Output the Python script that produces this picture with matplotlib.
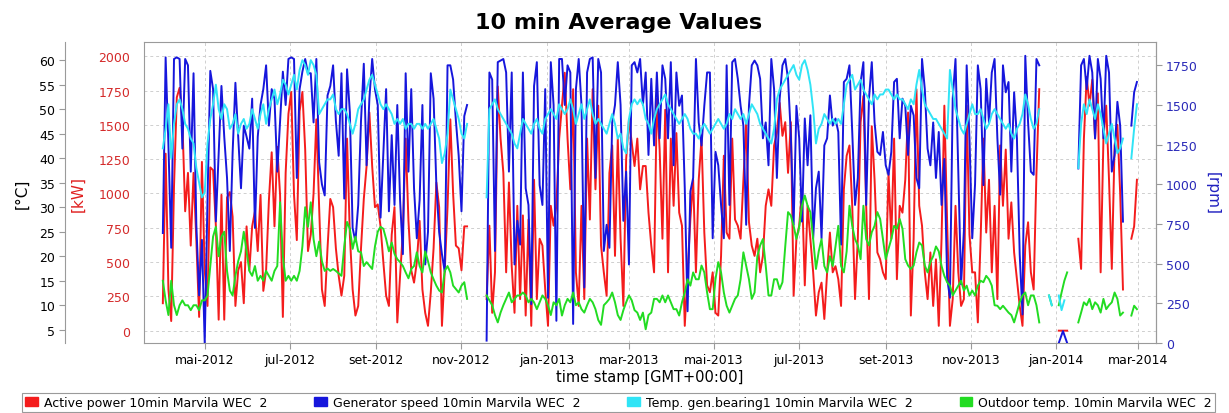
import numpy as np
import pandas as pd
import matplotlib
matplotlib.use("Agg")
import matplotlib.pyplot as plt
import matplotlib.dates as mdates
from matplotlib.ticker import FuncFormatter
from matplotlib.patches import Patch

# Each series is stored as segments: (first day, step in days, values).
# Gaps between segments are periods without data.

power_kw = [
    ("2012-04-01", 2, [200, 1290, 300, 70, 1050, 1700, 1770, 1530, 870, 1150, 620, 1150, 660, 100, 1230,
                       440, 180, 1190, 1170, 760, 80, 990, 80, 970, 1010, 830, 180, 440, 500, 200,
                       760, 440, 760, 870, 580, 990, 290, 440, 950, 1300, 760, 1340, 990, 100, 1150,
                       1580, 1740, 990, 660, 1600, 1740, 1320, 580,
                       700, 1000, 1540, 900, 300, 180, 600, 960, 900, 600, 400, 255, 400, 1400, 700,
                       300, 110, 180, 600, 960, 1200, 1590, 1200, 900, 920, 760, 500, 255, 180, 700,
                       900, 60, 400, 720, 1400, 800, 440, 350, 500, 800, 300, 130, 35, 280, 600,
                       1080, 900, 35, 440, 900, 1540, 1000, 620, 600, 440, 760, 760]),
    ("2012-11-19", 2, [230, 765, 130, 425, 1780, 1400, 1150, 425, 1080, 470, 130, 910, 230, 840, 110,
                       810, 35, 1100, 230, 670, 620, 300, 35, 910, 765, 910, 1400, 1640, 1880, 1400,
                       1030, 1760, 425, 180, 910, 230, 1400, 810, 1760, 1030, 1640, 620, 425, 255, 1150,
                       1350, 545, 1400, 670, 180, 1250, 1540, 1370, 1200, 1400, 1030, 1200,
                       1200, 860, 620, 425, 1690, 1320, 670, 1610, 425, 1400, 910, 1440, 860, 765, 35,
                       425, 810, 1100, 425, 1100, 1400, 715, 330, 280, 425, 130, 110, 545, 1275, 715,
                       670, 1400, 810, 765, 670, 1100, 1520, 790, 620, 545, 670, 425, 545, 910, 1030,
                       910, 1350, 1440, 1660, 1420, 1520, 1150, 1520, 255, 670, 765, 1030, 330, 910,
                       670, 425, 110, 280, 350, 85, 425, 715, 425, 470, 375, 180, 1030, 1275, 1350,
                       910, 230, 670, 1520, 1710, 910, 230, 1490, 1100, 570, 520, 425, 375, 1150, 670,
                       1400, 375, 910, 860, 1100, 1590, 110, 670, 1760, 910, 765, 425, 230, 570, 180,
                       520, 35, 670, 1640, 790, 35, 230, 910, 425, 180, 230, 1640, 700, 425,
                       425, 60, 670, 1400, 715, 1100, 425, 910, 230, 1350, 910, 1320, 670, 935, 570,
                       375, 180, 35, 620, 790, 425, 300, 1150, 1760]),
    ("2014-01-03", 2, [0, 0, 0, 0]),
    ("2014-01-17", 2, [670, 450, 1400, 1850, 1640, 1830, 1400, 1730, 425, 1400, 1640, 1100, 450, 1350,
                       1500, 1000, 300]),
    ("2014-02-24", 2, [670, 760, 1100]),
]

speed_rpm = [
    ("2012-04-01", 2, [693, 1800, 1250, 600, 1790, 1800, 1790, 1225, 1790, 1750, 1080, 1700, 745, 300, 650,
                       0, 900, 1715, 1600, 766, 1200, 1620, 1300, 1040, 580, 1200, 1640, 1300, 975, 1370,
                       1300, 1225, 1540, 725, 1300, 1500, 1600, 1750, 1370, 1600, 1540, 1080, 1400, 1710,
                       1500, 1790, 1800, 1790, 1040, 1600, 1710, 1790, 1700,
                       1700, 1390, 1790, 1140, 1000, 930, 1560, 1620, 1750, 1400, 1180, 1700, 910, 1725,
                       1455, 725, 640, 870, 1400, 1760, 1120, 1540, 1790, 1600, 1500, 790, 1200, 1600,
                       830, 1310, 870, 1500, 900, 560, 1700, 1080, 1600, 975, 660, 900, 1500, 495, 700,
                       1700, 1540, 995, 700, 560, 450, 1750, 1750, 1660, 1400, 1180, 830, 1430, 1500]),
    ("2012-11-19", 2, [15, 1705, 1660, 580, 1770, 1780, 1790, 1705, 1080, 1705, 495, 770, 620, 1705, 975,
                       870, 245, 1620, 1770, 995, 870, 1600, 285, 1770, 1500, 140, 1790, 1790, 1500, 1750,
                       1705, 120, 1600, 1790, 1500, 350, 1705, 1790, 1800, 1040, 1790, 1705, 580, 745, 600,
                       1390, 1500, 1770, 1500, 770, 1080, 495, 1750, 1770, 1705, 1790, 1500,
                       1705, 1185, 1665, 1245, 1705, 1290, 1750, 1665, 1290, 1770, 1120, 1705, 1495, 1560,
                       975, 200, 955, 1040, 1790, 1390, 1245, 1495, 1705, 1705, 660, 1205, 1120, 870, 660,
                       1750, 870, 1770, 1790, 1665, 1495, 1370, 745, 1495, 1750, 1780, 1750, 1665, 1290,
                       1390, 1120, 1790, 1600, 1040, 1540, 1750, 1790, 1665, 1310, 745, 1495, 1290, 765,
                       1415, 1120,
                       1435, 660, 975, 1080, 660, 1245, 1290, 1560, 1370, 1415, 1330, 620, 1645, 1665,
                       1750, 1330, 870, 1040, 1645, 1770, 870, 1540, 1770, 1390, 1205, 1185, 1330, 1120,
                       1060, 1205, 1645, 1665, 1290, 1540, 1495, 1185, 1495, 1435, 1040, 975, 1790, 1600,
                       1225, 1120, 1390, 1040, 1330, 870, 1160, 410, 285, 1540, 1790, 1080, 370, 705, 1750,
                       1290, 660,
                       1000, 1750, 1600, 995, 1665, 1390, 1705, 1790, 1290, 935, 1750, 1580, 1645, 1080,
                       1580, 1290, 560, 180, 1810, 1390, 1080, 1060, 1790, 1750]),
    ("2014-01-03", 3, [0, 75, 0]),
    ("2014-01-17", 2, [1100, 1750, 1790, 1600, 1810, 1705, 1290, 1790, 1665, 1290, 1810, 1705, 1080, 1185,
                       1520, 1370, 765]),
    ("2014-02-24", 2, [1370, 1580, 1645]),
]

bearing_temp_c = [
    ("2012-04-01", 2, [42, 46, 51, 40, 47, 51, 52, 50, 47, 46, 44, 43, 38, 35, 32, 33, 43, 48, 51, 55,
                       50, 48, 51, 50, 46, 47, 49, 45, 47, 48, 46, 47, 50, 48, 46, 49, 51, 47, 50, 52,
                       54, 51, 53, 56, 55, 53, 55, 57, 54, 58, 60, 59, 57,
                       60, 59, 57, 49, 50, 51, 52, 52, 53, 50, 49, 50, 50, 49, 47, 45, 47, 50, 51, 52,
                       54, 56, 57, 55, 53, 51, 50, 51, 50, 49, 47, 48, 47, 48, 46, 47, 47, 46, 47, 47,
                       46, 47, 46, 47, 48, 46, 44, 39, 41, 45, 54, 52, 50, 48, 45, 44, 47]),
    ("2012-11-19", 2, [32, 50, 51, 52, 50, 49, 48, 47, 46, 45, 43, 42, 45, 48, 47, 46, 45, 47, 48, 46,
                       45, 48, 49, 50, 49, 48, 51, 50, 49, 50, 52, 50, 47, 49, 51, 48, 50, 52, 49, 47,
                       48, 47, 46, 45, 47, 49, 47, 44, 45, 42, 41, 48, 51, 52, 51, 52, 51,
                       48, 47, 45, 48, 50, 51, 52, 53, 51, 50, 49, 48, 47, 48, 49, 48, 46, 45, 45, 44,
                       46, 47, 46, 45, 46, 47, 48, 47, 46, 47, 49, 48, 50, 49, 48, 49, 47, 49, 51, 50,
                       49, 47, 46, 45, 44, 43, 46, 52, 54, 55, 56, 57, 58, 59, 57, 56, 59, 60, 58,
                       55, 50, 43, 46, 47, 49, 48, 47, 48, 47, 48, 47, 51, 55, 56, 57, 54, 55, 56, 54,
                       53, 52, 51, 53, 52, 53, 53, 54, 54, 53, 52, 53, 52, 52, 51, 50, 52, 51, 55, 58,
                       54, 51, 50, 49, 48, 48, 47, 46, 45, 44, 58, 54, 50, 48, 46, 45, 47, 49, 51,
                       49, 49, 50, 48, 46, 47, 49, 50, 49, 48, 47, 46, 47, 45, 44, 46, 47, 49, 53, 51,
                       48, 46, 47, 50]),
    ("2013-12-27", 2, [12, 10]),
    ("2014-01-03", 2, [12, 9, 11]),
    ("2014-01-17", 2, [38, 47, 51, 49, 52, 50, 48, 51, 49, 46, 43, 45, 47, 44, 41, 42, 44]),
    ("2014-02-24", 2, [40, 46, 51]),
]

outdoor_temp_c = [
    ("2012-04-01", 2, [15, 11, 8, 15, 10, 8, 10, 11, 10, 10, 9, 10, 10, 9, 11, 11, 12, 18, 24, 26,
                       20, 24, 25, 17, 13, 12, 16, 19, 21, 25, 21, 17, 16, 18, 15, 16, 15, 17, 16, 15,
                       17, 18, 31, 20, 15, 16, 15, 16, 15, 17, 22, 30, 26,
                       31, 23.5, 20, 23, 19, 17, 17.5, 17, 17.4, 17, 16.5, 16, 22, 27, 25.6, 21.5, 24,
                       21, 20.8, 18, 18.8, 18.1, 17.4, 22, 25, 26, 25.6, 23.5, 21, 22.8, 20.5, 19.4,
                       18.8, 18, 16.7, 15.5, 17.4, 18, 20.8, 18, 16.7, 21, 19, 16.7, 15.3, 14, 13, 12.6,
                       17, 18, 16.7, 14, 13.3, 12.6, 14, 14.7, 11.3]),
    ("2012-11-19", 2, [12, 11, 10, 8, 6.5, 8.5, 10, 11.3, 12.6, 10.6, 11.3, 12, 12, 12.6, 12, 10.6,
                       11.3, 10.6, 9.2, 10.6, 12, 11.3, 10, 8, 10.6, 10, 11.3, 7.9, 10, 11.3, 10.6,
                       12.6, 10, 10.6, 9.2, 8.5, 10, 11.3, 10.6, 9.2, 7, 6, 10, 10.6, 11.3, 12.6, 10.6,
                       8, 7, 9, 10.6, 12, 11, 9, 8.5, 7, 8.5,
                       5.1, 8, 8.5, 11.3, 11.3, 10.6, 12, 10.6, 12, 10.6, 9.2, 9.2, 7.9, 10.6, 12.6,
                       15.3, 14, 16.7, 15.3, 15.3, 18.1, 16.7, 12.6, 9.2, 9.2, 15.3, 18.8, 16.7, 12.6,
                       9.9, 8.5, 9.9, 11.3, 12, 15.3, 20.8, 18, 15.3, 11.3, 12.6, 20, 22.2, 23.5, 18.1,
                       12, 12, 15.3, 15.3, 13.3, 14.7, 22, 29, 28.3, 26.2, 23.5, 26, 30.3, 32.4, 30.3,
                       29, 23.5, 17.4, 21, 23.5, 18, 16.7, 20, 18, 22, 26.2, 18, 16.7, 21, 30.3, 26.2,
                       23.5, 22.2, 19.4, 30.3, 23.5, 22.2, 24.9, 26.2, 29, 27.6, 23.5, 19.4, 21.5, 23.5,
                       26.2, 25.6, 27.6, 25.6, 19.4, 18.1, 17.4, 18.1, 20.8, 22.8, 22.2, 18.1, 16.7,
                       18.8, 20, 22, 21, 18, 16, 14.7, 14, 12, 13, 14, 15, 13, 14, 12, 13,
                       12, 14, 15, 14.7, 16, 15.3, 14, 10, 9.9, 9.2, 9.9, 9.2, 8.5, 8, 6.5, 8.5, 10.6,
                       12, 12.6, 10, 12, 12, 10, 6.5]),
    ("2013-12-27", 2, [12, 10]),
    ("2014-01-03", 2, [10, 12.6, 15, 16.7]),
    ("2014-01-17", 2, [6.5, 8.5, 10.6, 10, 11.3, 9.2, 10.6, 10, 8.5, 11.3, 9.2, 10, 10.6, 12.6, 11.3,
                       7.9, 8.5]),
    ("2014-02-24", 2, [7.9, 9.9, 9.2]),
]

series_labels = [
    "Active power 10min Marvila WEC  2",
    "Generator speed 10min Marvila WEC  2",
    "Temp. gen.bearing1 10min Marvila WEC  2",
    "Outdoor temp. 10min Marvila WEC  2",
]
month_names = ["jan", "fev", "mar", "abr", "mai", "jun", "jul", "ago", "set", "out", "nov", "dez"]
kw_ticks = list(range(0, 2001, 250))
rpm_ticks = list(range(0, 1751, 250))
degc_ticks = list(range(5, 61, 5))

RED, BLUE, CYAN, GREEN = "#f41c1c", "#1616dc", "#30e4f6", "#22dc22"
FRAME = "#9a9a9a"


def to_series(segments):
    parts = []
    for start, step, vals in segments:
        idx = pd.date_range(start, periods=len(vals), freq=f"{step}D")
        parts.append(pd.Series(vals, index=idx, dtype=float))
        # break the line after every segment
        parts.append(pd.Series([np.nan], index=[idx[-1] + pd.Timedelta(hours=12)]))
    return pd.concat(parts)


power = to_series(power_kw)
speed = to_series(speed_rpm)
bearing = to_series(bearing_temp_c)
outdoor = to_series(outdoor_temp_c)

fig = plt.figure(figsize=(12.29, 4.14), dpi=100)
W, H = 1229, 414
ax = fig.add_axes([144 / W, 70 / H, 1012 / W, 301 / H])
ax_rpm = ax.twinx()
ax_deg = ax.twinx()

# drawing order: red, blue, then the two temperatures on top
ax.plot(power.index, power.values, color=RED, lw=1.4, zorder=3)
ax_rpm.plot(speed.index, speed.values, color=BLUE, lw=1.4)
ax_deg.plot(outdoor.index, outdoor.values, color=GREEN, lw=1.4)
ax_deg.plot(bearing.index, bearing.values, color=CYAN, lw=1.4)

ax.set_xlim(pd.Timestamp("2012-03-18 12:00"), pd.Timestamp("2014-03-13 16:00"))
ax.set_ylim(-90, 2104)
ax_rpm.set_ylim(0, 1897)
ax_deg.set_ylim(2.3, 63.7)

# kW axis (left, on the frame)
ax.set_yticks(kw_ticks)
ax.tick_params(axis="y", length=0, pad=10, labelsize=9, labelcolor="#d42a2a")
ax.set_ylabel("[kW]", color="#e02020", fontsize=11)
ax.yaxis.set_label_coords(-0.058, 0.5)

# x axis
ax.xaxis.set_major_locator(mdates.MonthLocator(bymonth=[1, 3, 5, 7, 9, 11]))
ax.xaxis.set_major_formatter(FuncFormatter(
    lambda v, pos: f"{month_names[mdates.num2date(v).month - 1]}-{mdates.num2date(v).year}"))
ax.tick_params(axis="x", length=4, color=FRAME, labelsize=9, pad=3)
ax.set_xlabel("time stamp [GMT+00:00]", fontsize=10.5)
ax.xaxis.set_label_coords(0.5, -0.086)

ax.grid(True, color="#cfcfcf", linestyle=(0, (3, 3)), linewidth=0.7, zorder=1)
ax.set_axisbelow(True)
for sp in ax.spines.values():
    sp.set_color(FRAME)

# rpm axis (right)
ax_rpm.set_yticks(rpm_ticks)
ax_rpm.tick_params(axis="y", length=4, color=FRAME, labelsize=9, labelcolor="#2a2ab8", pad=3)
ax_rpm.set_ylabel("[rpm]", color="#2020c0", fontsize=11, rotation=-90, va="center")
ax_rpm.yaxis.set_label_coords(1.056, 0.5)
for name, sp in ax_rpm.spines.items():
    sp.set_visible(name == "right")
    sp.set_color(FRAME)

# degC axis (left, offset)
ax_deg.yaxis.set_ticks_position("left")
ax_deg.yaxis.set_label_position("left")
ax_deg.spines["left"].set_position(("outward", 57))
for name, sp in ax_deg.spines.items():
    sp.set_visible(name == "left")
    sp.set_color(FRAME)
ax_deg.set_yticks(degc_ticks)
ax_deg.tick_params(axis="y", length=4, color=FRAME, labelsize=9, pad=3)
ax_deg.set_ylabel("[°C]", fontsize=11)
ax_deg.yaxis.set_label_coords(-0.113, 0.5)

fig.text(618.5 / W, 1 - 23 / H, "10 min Average Values", ha="center", va="center",
         fontsize=16, fontweight="bold")

handles = [Patch(facecolor=c, edgecolor=c) for c in (RED, BLUE, CYAN, GREEN)]
leg = fig.legend(handles, series_labels, loc="lower left", ncol=4, mode="expand",
                 bbox_to_anchor=(22 / W, 1 / H, 1193 / W, 18 / H), fontsize=9,
                 handlelength=1.0, handleheight=0.7, handletextpad=0.5, borderpad=0.25,
                 borderaxespad=0, fancybox=False, framealpha=1)
leg.get_frame().set_edgecolor(FRAME)
leg.get_frame().set_linewidth(0.8)

fig.savefig("out.png", dpi=100)
